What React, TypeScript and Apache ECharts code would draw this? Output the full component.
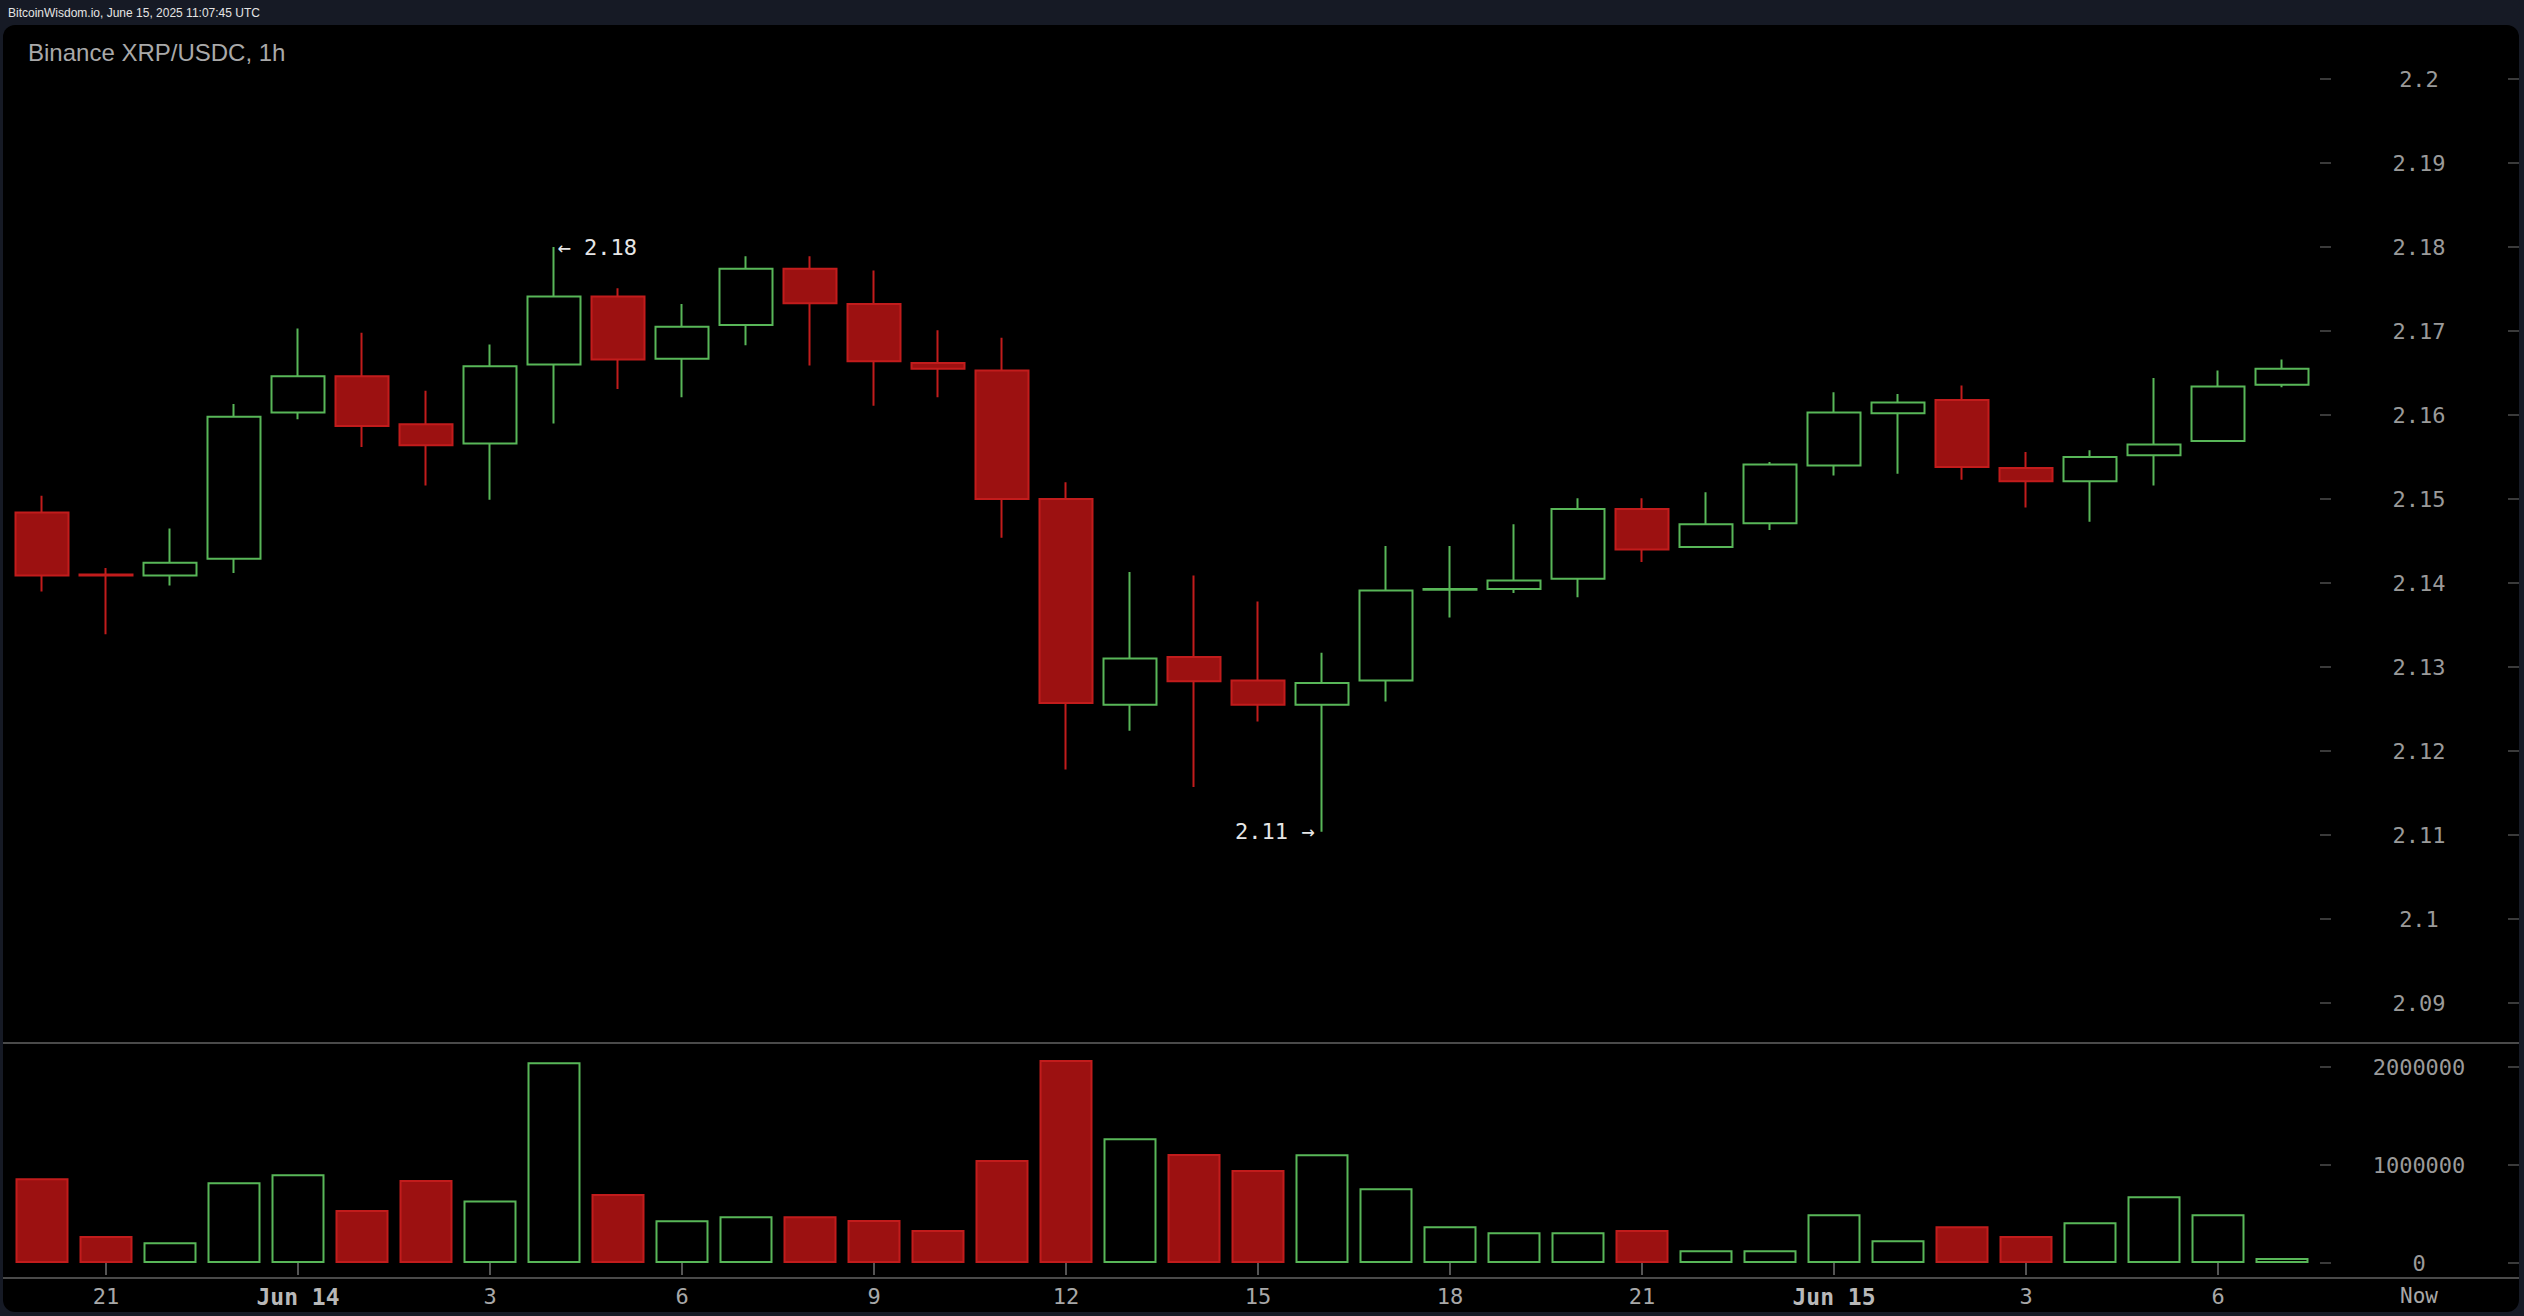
import React, { useEffect, useRef } from "react";
import * as echarts from "echarts";

const categories = [
  "06-13 20:00", "06-13 21:00", "06-13 22:00", "06-13 23:00",
  "06-14 00:00", "06-14 01:00", "06-14 02:00", "06-14 03:00", "06-14 04:00", "06-14 05:00",
  "06-14 06:00", "06-14 07:00", "06-14 08:00", "06-14 09:00", "06-14 10:00", "06-14 11:00",
  "06-14 12:00", "06-14 13:00", "06-14 14:00", "06-14 15:00", "06-14 16:00", "06-14 17:00",
  "06-14 18:00", "06-14 19:00", "06-14 20:00", "06-14 21:00", "06-14 22:00", "06-14 23:00",
  "06-15 00:00", "06-15 01:00", "06-15 02:00", "06-15 03:00", "06-15 04:00", "06-15 05:00",
  "06-15 06:00", "06-15 07:00",
];

const opens = [
  2.1484, 2.141, 2.1409, 2.1429, 2.1603, 2.1646, 2.1589, 2.1566, 2.166, 2.1741,
  2.1667, 2.1707, 2.1774, 2.1732, 2.1662, 2.1653, 2.15, 2.1255, 2.1312, 2.1284,
  2.1255, 2.1284, 2.1392, 2.1393, 2.1405, 2.1488, 2.1443, 2.1471, 2.154, 2.1602,
  2.1618, 2.1537, 2.1521, 2.1552, 2.1569, 2.1636,
];
const closes = [
  2.1409, 2.1409, 2.1424, 2.1598, 2.1646, 2.1587, 2.1564, 2.1658, 2.1741, 2.1666,
  2.1705, 2.1774, 2.1733, 2.1664, 2.1655, 2.15, 2.1257, 2.131, 2.1283, 2.1255,
  2.1281, 2.1391, 2.1393, 2.1403, 2.1488, 2.144, 2.147, 2.1541, 2.1603, 2.1615,
  2.1538, 2.1521, 2.155, 2.1565, 2.1634, 2.1655,
];
const lows = [
  2.139, 2.1339, 2.1397, 2.1412, 2.1595, 2.1562, 2.1516, 2.1499, 2.159, 2.1631,
  2.1621, 2.1683, 2.1659, 2.1611, 2.1621, 2.1454, 2.1178, 2.1224, 2.1157, 2.1235,
  2.1104, 2.1259, 2.1359, 2.1388, 2.1383, 2.1425, 2.1442, 2.1463, 2.1528, 2.153,
  2.1523, 2.149, 2.1473, 2.1516, 2.1568, 2.1633,
];
const highs = [
  2.1504, 2.1418, 2.1465, 2.1613, 2.1703, 2.1698, 2.1629, 2.1684, 2.18, 2.1751,
  2.1732, 2.1789, 2.1789, 2.1772, 2.1701, 2.1692, 2.152, 2.1413, 2.1409, 2.1378,
  2.1317, 2.1444, 2.1444, 2.147, 2.1501, 2.1501, 2.1508, 2.1544, 2.1627, 2.1625,
  2.1635, 2.1556, 2.1558, 2.1644, 2.1653, 2.1666,
];
const volumes = [
  864000, 276000, 211000, 823000, 905000, 541000, 847000, 639000, 2048000, 704000,
  435000, 476000, 476000, 439000, 337000, 1051000, 2071000, 1272000, 1112000, 949000,
  1109000, 762000, 374000, 313000, 313000, 337000, 129000, 129000, 497000, 231000,
  374000, 276000, 415000, 680000, 497000, 51000,
];

const priceMin = 2.09;
const priceMax = 2.2;
const priceStep = 0.01;
const volMin = 0;
const volMax = 2000000;
const volStep = 1000000;

const titleText = "Binance XRP/USDC, 1h";
const headerText = "BitcoinWisdom.io, June 15, 2025 11:07:45 UTC";
const nowLabel = "Now";

const UP = "#58b658";
const DOWN_FILL = "#9c1111";
const DOWN_BORDER = "#c21c1c";
const MONO = "'DejaVu Sans Mono', monospace";
const SANS = "'Liberation Sans', Arial, sans-serif";

export default function App() {
  const ref = useRef<HTMLDivElement>(null);

  useEffect(() => {
    document.body.style.margin = "0";
    document.body.style.background = "#161a25";
    document.body.style.overflow = "hidden";
    const chart = echarts.init(ref.current!, undefined, { renderer: "svg" });

    const candleData = categories.map((_, i) => [opens[i], closes[i], lows[i], highs[i]]);
    const volData = volumes.map((v, i) => {
      const up = closes[i] >= opens[i];
      return {
        value: v,
        itemStyle: up
          ? { color: "#000000", borderColor: UP, borderWidth: 2 }
          : { color: DOWN_FILL, borderColor: DOWN_BORDER, borderWidth: 2 },
      };
    });

    let hiIdx = 0;
    let loIdx = 0;
    highs.forEach((h, i) => { if (h > highs[hiIdx]) hiIdx = i; });
    lows.forEach((l, i) => { if (l < lows[loIdx]) loIdx = i; });

    const gridLeft = 10;
    const gridRight = 210;
    const tickStyle = { color: "#3a3a3a", width: 2 };

    const labelFmt = (v: string) => {
      const [d, t] = v.split(" ");
      const h = parseInt(t, 10);
      if (h === 0) return "{b|Jun " + parseInt(d.split("-")[1], 10) + "}";
      return String(h);
    };
    const showIdx = (i: number) => i % 3 === 1;

    const yCommon = (gridIndex: number, min: number, max: number, interval: number, offset: number, withLabels: boolean, fmt: (v: number) => string) => ({
      type: "value",
      gridIndex,
      position: "right",
      offset,
      min,
      max,
      interval,
      axisLine: { show: false },
      axisTick: { show: true, length: 11, lineStyle: tickStyle },
      splitLine: { show: false },
      axisLabel: withLabels
        ? { show: true, margin: 99, align: "center", color: "#9a9a9a", fontFamily: MONO, fontSize: 22, formatter: fmt }
        : { show: false },
    });

    const priceFmt = (v: number) => String(Number(v.toFixed(2)));
    const volFmt = (v: number) => String(Math.round(v));

    chart.setOption({
      animation: false,
      backgroundColor: "#161a25",
      grid: [
        { left: gridLeft, right: gridRight, top: 79, height: 924 },
        { left: gridLeft, right: gridRight, top: 1067, height: 196 },
      ],
      xAxis: [
        {
          type: "category",
          gridIndex: 0,
          data: categories,
          boundaryGap: true,
          axisLine: { show: false },
          axisTick: { show: false },
          axisLabel: { show: false },
          splitLine: { show: false },
        },
        {
          type: "category",
          gridIndex: 1,
          data: categories,
          boundaryGap: true,
          position: "bottom",
          offset: 15,
          axisLine: { show: false },
          axisTick: {
            show: true,
            alignWithLabel: true,
            interval: (i: number) => showIdx(i),
            length: 12,
            lineStyle: { color: "#555555", width: 2 },
          },
          axisLabel: {
            show: true,
            interval: (i: number) => showIdx(i),
            margin: 7,
            color: "#a8a8a8",
            fontFamily: MONO,
            fontSize: 22,
            formatter: labelFmt,
            rich: {
              b: { fontFamily: MONO, fontSize: 23, fontWeight: "bold", color: "#b8b8b8" },
            },
          },
          splitLine: { show: false },
        },
      ],
      yAxis: [
        yCommon(0, priceMin, priceMax, priceStep, 6, true, priceFmt),
        yCommon(0, priceMin, priceMax, priceStep, 194, false, priceFmt),
        yCommon(1, volMin, volMax, volStep, 6, true, volFmt),
        yCommon(1, volMin, volMax, volStep, 194, false, volFmt),
      ],
      graphic: [
        {
          type: "rect",
          z: -10,
          shape: { x: 3, y: 25, width: 2516, height: 1287, r: 12 },
          style: { fill: "#000000" },
        },
        {
          type: "line",
          shape: { x1: 3, y1: 1043, x2: 2519, y2: 1043 },
          style: { stroke: "#4a4a4a", lineWidth: 2 },
        },
        {
          type: "line",
          shape: { x1: 3, y1: 1278, x2: 2519, y2: 1278 },
          style: { stroke: "#4a4a4a", lineWidth: 2 },
        },
        {
          type: "text",
          x: 8,
          y: 13,
          style: { text: headerText, fill: "#e4e4e4", fontFamily: SANS, fontSize: 12, verticalAlign: "middle" },
        },
        {
          type: "text",
          x: 28,
          y: 52,
          style: { text: titleText, fill: "#a9a9a9", fontFamily: SANS, fontSize: 24, verticalAlign: "middle" },
        },
        {
          type: "text",
          x: 2419,
          y: 1296,
          style: { text: nowLabel, fill: "#a8a8a8", fontFamily: MONO, fontSize: 21, align: "center", verticalAlign: "middle" },
        },
      ],
      series: [
        {
          type: "candlestick",
          xAxisIndex: 0,
          yAxisIndex: 0,
          data: candleData,
          barWidth: 53,
          itemStyle: {
            color: "#000000",
            color0: DOWN_FILL,
            borderColor: UP,
            borderColor0: DOWN_BORDER,
            borderWidth: 2,
          },
          markPoint: {
            symbol: "rect",
            symbolSize: 1,
            itemStyle: { color: "rgba(0,0,0,0)" },
            label: { show: true, color: "#e6e6e6", fontFamily: MONO, fontSize: 22 },
            data: [
              {
                coord: [categories[hiIdx], highs[hiIdx]],
                label: { position: "right", distance: 3, formatter: "\u2190 " + highs[hiIdx].toFixed(2) },
              },
              {
                coord: [categories[loIdx], lows[loIdx]],
                label: { position: "left", distance: 7, formatter: lows[loIdx].toFixed(2) + " \u2192" },
              },
            ],
          },
        },
        {
          type: "bar",
          xAxisIndex: 1,
          yAxisIndex: 2,
          data: volData,
          barWidth: 53,
          clip: false,
        },
      ],
    });

    return () => chart.dispose();
  }, []);

  return <div ref={ref} style={{ width: 2524, height: 1316 }} />;
}
